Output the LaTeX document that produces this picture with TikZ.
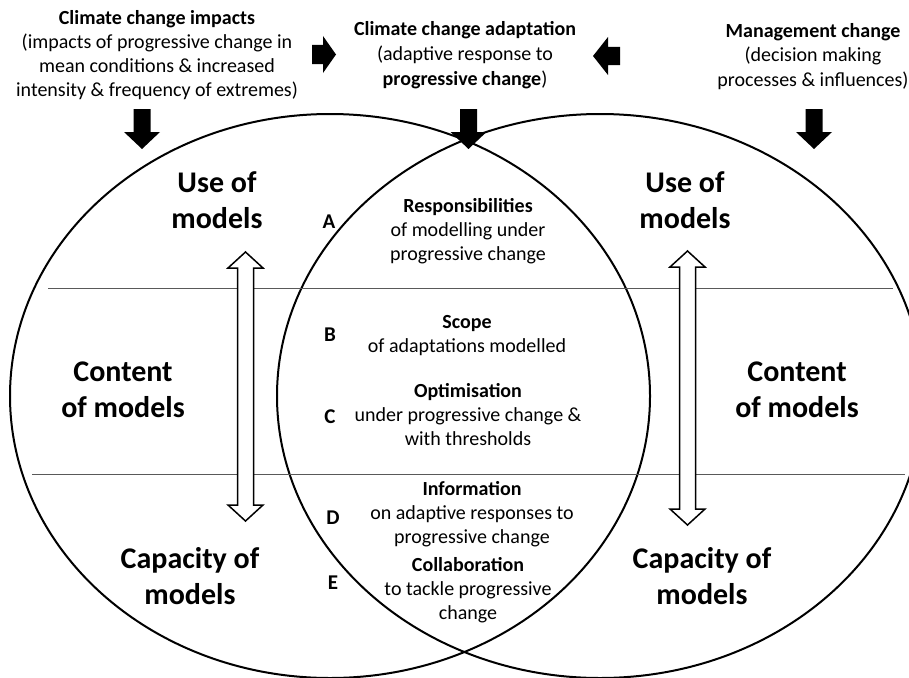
\documentclass[tikz,border=0pt]{standalone}
\usepackage{fontspec}
\setmainfont{Carlito}
\begin{document}
\begin{tikzpicture}[x=1pt,y=-1pt,
  big/.style={font=\bfseries\fontsize{30}{36}\selectfont, align=center, inner sep=0pt},
  txt/.style={font=\fontsize{20}{24}\selectfont, align=center, inner sep=0pt},
  lett/.style={font=\bfseries\fontsize{21}{24}\selectfont, inner sep=0pt},
  ring/.style={line width=2pt, draw=black},
  sepline/.style={line width=1pt, draw=black!65},
  blockarrow/.style={fill=black},
  hollowarrow/.style={draw=black, line width=1.5pt, fill=white, line join=miter}]
\useasboundingbox (0,0) rectangle (909,677);
\clip (0,0) rectangle (909,677);
% circles
\draw[ring] (330,396) ellipse [x radius=320pt, y radius=282pt];
\draw[ring] (600,396) ellipse [x radius=323pt, y radius=282pt];
% separators
\coordinate (s1a) at (48,288); \coordinate (s1b) at (893,288);
\coordinate (s2a) at (32,474); \coordinate (s2b) at (905,474);
\draw[sepline] (s1a) -- (s1b);
\draw[sepline] (s2a) -- (s2b);
% hollow double arrows
\draw[hollowarrow] (245.5,252) -- (263,268) -- (253.5,268) -- (253.5,505) -- (263,505) -- (245.5,521)
  -- (228,505) -- (237.5,505) -- (237.5,268) -- (228,268) -- cycle;
\draw[hollowarrow] (687.5,251) -- (705,267) -- (695.5,267) -- (695.5,509) -- (705,509) -- (687.5,525)
  -- (670,509) -- (679.5,509) -- (679.5,267) -- (670,267) -- cycle;
% down block arrows
\foreach \cx in {142,468.5,814}{
  \fill[blockarrow] (\cx-8.5,109) -- (\cx+8.5,109) -- (\cx+8.5,132) -- (\cx+18,132) -- (\cx,149)
    -- (\cx-18,132) -- (\cx-8.5,132) -- cycle;
}
% right block arrow
\fill[blockarrow] (312,45) -- (323,45) -- (323,36) -- (336,54.5) -- (323,73) -- (323,64) -- (312,64) -- cycle;
% left block arrow
\fill[blockarrow] (620,47) -- (608,47) -- (608,37) -- (593,56) -- (608,75) -- (608,65) -- (620,65) -- cycle;
% top texts
\node[txt] (impacts) at (157,55.5) {\textbf{Climate change impacts}\\(impacts of progressive change in\\mean conditions \& increased\\intensity \& frequency of extremes)};
\node[txt, font=\fontsize{20}{25}\selectfont] (adapt) at (465,55) {\textbf{Climate change adaptation}\\(adaptive response to\\\textbf{progressive change})};
\node[txt, font=\fontsize{20}{24.5}\selectfont] (mgmt) at (813,56.5) {\textbf{Management change}\\(decision making\\processes \& influences)};
% big labels
\node[big] (useL) at (217,200) {Use of\\models};
\node[big] (contL) at (123,390) {Content\\of models};
\node[big] (capL) at (190,576) {Capacity of\\models};
\node[big] (useR) at (685,200) {Use of\\models};
\node[big] (contR) at (797,390) {Content\\of models};
\node[big] (capR) at (702,576) {Capacity of\\models};
% central texts
\node[txt] (resp) at (468,231.5) {\textbf{Responsibilities}\\of modelling under\\progressive change};
\node[txt] (scope) at (467,336) {\textbf{Scope}\\of adaptations modelled};
\node[txt] (optim) at (468,415) {\textbf{Optimisation}\\under progressive change \&\\with thresholds};
\node[txt] (info) at (472,514) {\textbf{Information}\\on adaptive responses to\\progressive change};
\node[txt] (collab) at (468,590) {\textbf{Collaboration}\\to tackle progressive\\change};
% letters
\node[lett] (A) at (329,222) {A};
\node[lett] (B) at (330,335) {B};
\node[lett] (C) at (330,417) {C};
\node[lett] (D) at (333,518) {D};
\node[lett] (E) at (333,583) {E};
\end{tikzpicture}
\end{document}
